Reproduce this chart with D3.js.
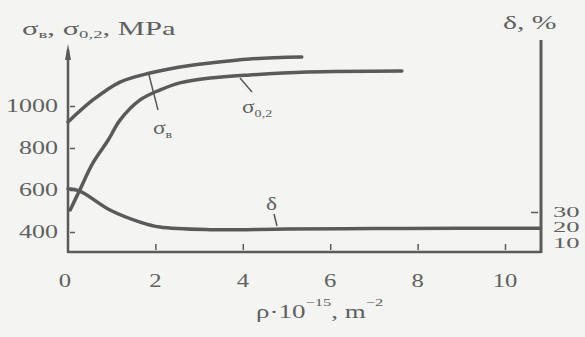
<!DOCTYPE html>
<html><head><meta charset="utf-8">
<script src="https://cdn.jsdelivr.net/npm/d3@7"></script>
<style>
html,body{margin:0;padding:0;background:#f4f4f2;}
svg{display:block;}
text{font-family:"Liberation Serif","DejaVu Serif",serif;fill:#606060;}
</style></head>
<body>
<svg id="c" width="585" height="337"></svg>
<script>
// ---- data ----
const xTicks = [0, 2, 4, 6, 8, 10];
const yTicks = [400, 600, 800, 1000];
const dTicks = [30, 20, 10];

const xSigmaB = [0, 0.57, 1.19, 1.88, 2.56, 3.25, 4.16, 5.35];
const sigmaB  = [924, 1029, 1114, 1157, 1186, 1205, 1224, 1233];

const xSigma02 = [0.05, 0.27, 0.57, 0.92, 1.19, 1.65, 2.1, 2.56, 3.25, 4.16, 5.47, 7.64];
const sigma02  = [505, 600, 729, 838, 933, 1029, 1076, 1110, 1133, 1148, 1162, 1167];

const xDelta = [0, 0.27, 0.96, 1.65, 2.1, 3.25, 5, 7, 9, 10.8];
const delta  = [45, 43.5, 31.3, 23.5, 20.3, 18.6, 19, 19.3, 19.5, 19.5];

// ---- scales ----
const x = d3.scaleLinear().domain([0, 10]).range([68, 505]);
const y = d3.scaleLinear().domain([400, 1000]).range([232, 106]);
const yd = d3.scaleLinear().domain([10, 30]).range([243, 212]);

const svg = d3.select("#c");
const ink = "#5a5a5a";
const SX = 1.3;

// axes lines
const axisX0 = 68, axisX1 = 541, axisY = 252;
svg.append("line").attr("x1", axisX0).attr("x2", axisX0).attr("y1", axisY + 1).attr("y2", 50)
  .attr("stroke", ink).attr("stroke-width", 2.5);
svg.append("path").attr("d", `M${axisX0 - 3},${60} L${axisX0},${44} L${axisX0 + 3},${60} Z`).attr("fill", ink);
svg.append("line").attr("x1", axisX0).attr("x2", axisX1).attr("y1", axisY).attr("y2", axisY)
  .attr("stroke", ink).attr("stroke-width", 2.5);
svg.append("line").attr("x1", axisX1).attr("x2", axisX1).attr("y1", axisY + 1).attr("y2", 40)
  .attr("stroke", ink).attr("stroke-width", 3);

// left ticks (inward)
const gl = svg.append("g").attr("transform", `translate(${axisX0},0)`)
  .call(d3.axisLeft(y).tickValues(yTicks).tickSize(-7).tickFormat(""));
gl.select(".domain").remove();
gl.selectAll(".tick line").attr("stroke", ink).attr("stroke-width", 1.5).attr("x1", 2);

// bottom ticks (inward, small)
const gb = svg.append("g").attr("transform", `translate(0,${axisY - 8})`)
  .call(d3.axisBottom(x).tickValues(xTicks.filter(d => d > 0)).tickSize(6).tickFormat(""));
gb.select(".domain").remove();
gb.selectAll(".tick line").attr("stroke", ink).attr("stroke-width", 1.5);

// right tick at 30
const gr = svg.append("g").attr("transform", `translate(${axisX1 - 3},0)`)
  .call(d3.axisLeft(yd).tickValues([30]).tickSize(7).tickFormat(""));
gr.select(".domain").remove();
gr.selectAll(".tick line").attr("stroke", ink).attr("stroke-width", 1.5);

// tick labels
function lab(tx, ty, str, anchor, size, sx) {
  return svg.append("text").attr("transform", `translate(${tx},${ty}) scale(${sx || SX},1)`)
    .attr("text-anchor", anchor).attr("dominant-baseline", "central")
    .attr("font-size", size || 19).text(str);
}
yTicks.forEach(v => lab(58, y(v), String(v), "end", 19, 1.37));
xTicks.forEach(v => lab(x(v) - (v === 0 ? 3 : 0), 281, String(v), "middle"));
dTicks.forEach(v => lab(553, yd(v), String(v), "start", 14, 1.9));

// curves
const line = d3.line().curve(d3.curveCatmullRom.alpha(0.5));
function curve(xs, ys, sc, w) {
  svg.append("path").attr("d", line(xs.map((d, i) => [x(d), sc(ys[i])])))
    .attr("fill", "none").attr("stroke", ink).attr("stroke-width", w)
    .attr("stroke-linecap", "round");
}
curve(xSigmaB, sigmaB, y, 3.5);
curve(xSigma02, sigma02, y, 3.5);
curve(xDelta, delta, yd, 3.5);

// leader lines
function lead(a, b) {
  svg.append("line").attr("x1", a[0]).attr("y1", a[1]).attr("x2", b[0]).attr("y2", b[1])
    .attr("stroke", ink).attr("stroke-width", 1.5);
}
lead([149, 75], [158, 110]);
lead([240, 78], [252, 92]);
lead([274, 214], [277, 226]);

// curve labels
function sublabel(tx, ty, main, sub, size) {
  const t = svg.append("text").attr("transform", `translate(${tx},${ty}) scale(${SX},1)`)
    .attr("font-size", size);
  t.append("tspan").text(main);
  t.append("tspan").attr("font-size", size * 0.6).attr("dy", 4).text(sub);
  return t;
}
sublabel(153, 134, "σ", "в", 18);
sublabel(242, 113, "σ", "0,2", 18);
svg.append("text").attr("transform", `translate(266,210) scale(${SX},1)`).attr("font-size", 18).text("δ");

// y title
const tt = svg.append("text").attr("transform", `translate(22,35) scale(1.7,1)`).attr("font-size", 18);
tt.append("tspan").text("σ");
tt.append("tspan").attr("font-size", 11).attr("dy", 3).text("в");
tt.append("tspan").attr("dy", -3).text(", σ");
tt.append("tspan").attr("font-size", 11).attr("dy", 3).text("0,2");
tt.append("tspan").attr("dy", -3).text(", MPa");

// right title
svg.append("text").attr("transform", `translate(503,29) scale(1.65,1)`).attr("font-size", 18).text("δ, %");

// x title
const xt = svg.append("text").attr("transform", `translate(256,318) scale(1.5,1)`).attr("font-size", 18);
xt.append("tspan").text("ρ·10");
xt.append("tspan").attr("font-size", 11).attr("dy", -12).text("−15");
xt.append("tspan").attr("dy", 12).text(", m");
xt.append("tspan").attr("font-size", 11).attr("dy", -12).text("−2");
</script>
</body></html>
